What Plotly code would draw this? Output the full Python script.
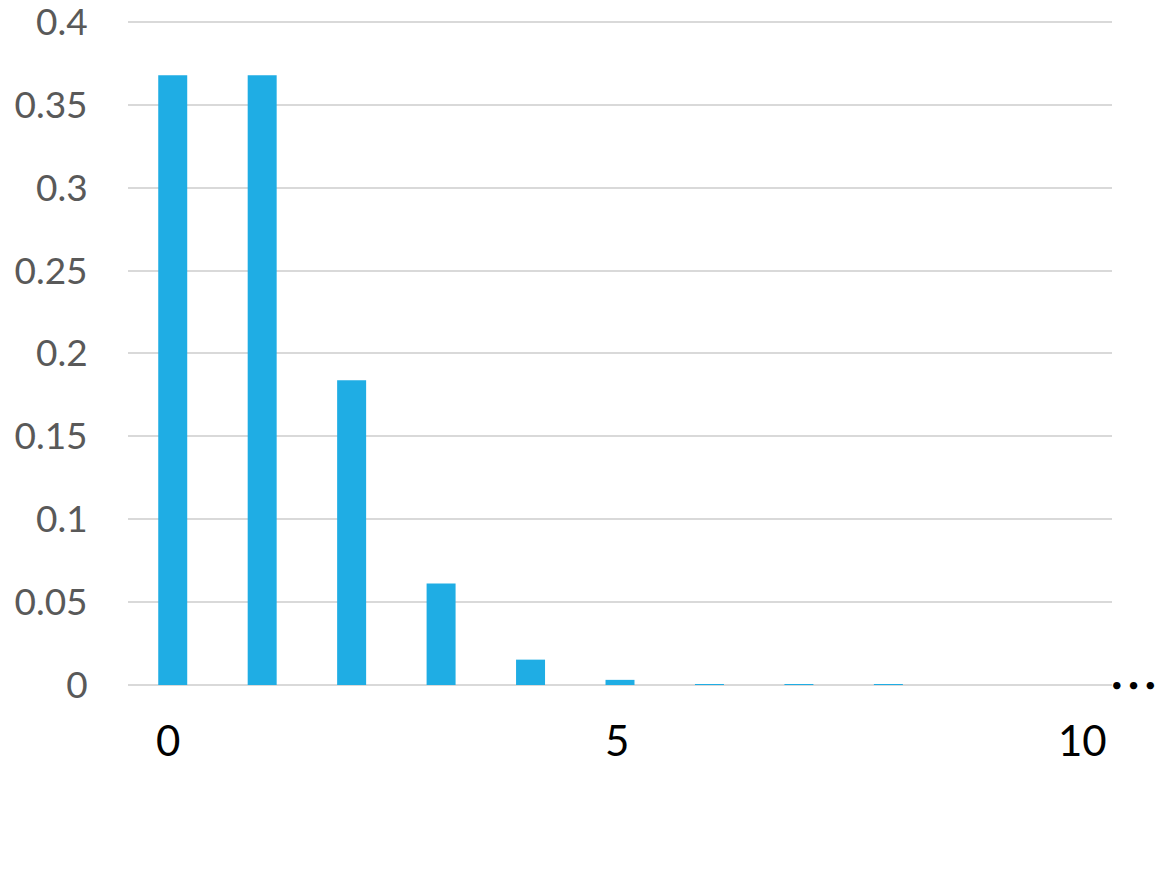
import plotly.graph_objects as go

# Poisson(lambda=1) probabilities
k_values = [0, 1, 2, 3, 4, 5, 6, 7, 8, 9, 10]
probabilities = [0.3679, 0.3679, 0.1839, 0.0613, 0.0153, 0.0031, 0.0005, 0.00007, 0.00001, 0.000001, 0.0000001]
y_ticks = [0, 0.05, 0.1, 0.15, 0.2, 0.25, 0.3, 0.35, 0.4]
y_tick_labels = ["0", "0.05", "0.1", "0.15", "0.2", "0.25", "0.3", "0.35", "0.4"]
x_label_ks = [0, 5, 10]
x_label_texts = ["0", "5", "10"]
x_label_shifts = [-5, -3, 15]

fig = go.Figure()
fig.add_trace(go.Bar(
    x=k_values, y=probabilities,
    marker=dict(color="#1FADE4", line=dict(width=0)),
    width=0.324,
    hoverinfo="x+y",
))

annotations = []
for k, lab, sh in zip(x_label_ks, x_label_texts, x_label_shifts):
    annotations.append(dict(
        x=k, y=0, xref="x", yref="y", text=lab, showarrow=False,
        yanchor="middle", yshift=-55, xshift=sh,
        font=dict(family="Lato, sans-serif", size=42, color="#000000"),
    ))
annotations.append(dict(
    x=1.0, y=0, xref="paper", yref="y", text="• • •", showarrow=False,
    xanchor="left", yanchor="middle", xshift=-3, yshift=1,
    font=dict(family="Lato, sans-serif", size=20, color="#000000"),
))

fig.update_layout(
    width=1157, height=872,
    margin=dict(l=128, r=45, t=18, b=187, autoexpand=False),
    plot_bgcolor="white", paper_bgcolor="white",
    showlegend=False,
    annotations=annotations,
    xaxis=dict(
        range=[-0.5, 10.5], showticklabels=False, showgrid=False,
        zeroline=False, showline=False, ticks="", fixedrange=True,
        automargin=False,
    ),
    yaxis=dict(
        range=[0, 0.4024], tickvals=y_ticks, ticktext=y_tick_labels,
        showgrid=True, gridcolor="#D9D9D9", gridwidth=1.5,
        zeroline=True, zerolinecolor="#D9D9D9", zerolinewidth=2,
        showline=False, ticks="outside", ticklen=32, tickcolor="rgba(0,0,0,0)",
        tickfont=dict(family="Lato, sans-serif", size=37, color="#595959"),
        ticklabeloverflow="allow",
        fixedrange=True, automargin=False,
    ),
)

fig.write_html(
    "out.html",
    config={"displayModeBar": False},
    post_script="document.body.style.margin='0';document.body.style.overflow='hidden';",
)
